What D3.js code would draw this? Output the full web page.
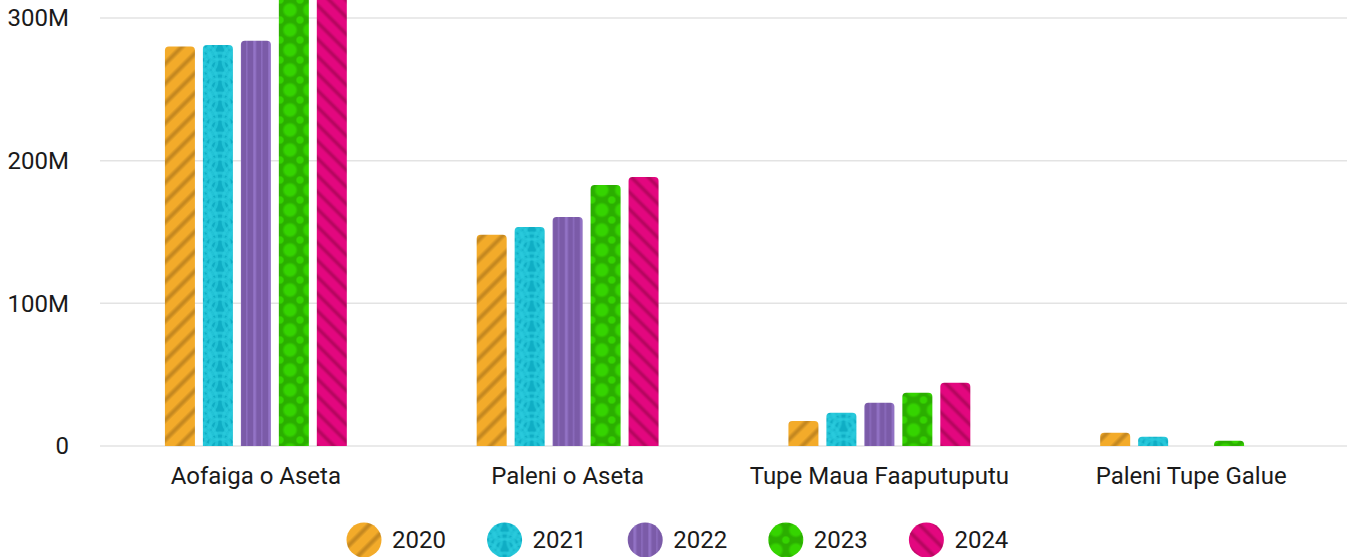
<!DOCTYPE html>
<html>
<head>
<meta charset="utf-8">
<script src="https://cdnjs.cloudflare.com/ajax/libs/d3/7.8.5/d3.min.js"></script>
<style>
  * { margin: 0; padding: 0; }
  body { background: #fff; font-family: Roboto, sans-serif; }
  svg { display: block; }
</style>
</head>
<body>
<script>
// chart data
var categories = ["Aofaiga o Aseta", "Paleni o Aseta", "Tupe Maua Faaputuputu", "Paleni Tupe Galue"];
var years = ["2020", "2021", "2022", "2023", "2024"];
var values2020 = [280e6, 148e6, 17.5e6, 9.3e6];
var values2021 = [281e6, 153.5e6, 23.3e6, 6.5e6];
var values2022 = [284e6, 160.5e6, 30.3e6, 0];
var values2023 = [318e6, 183e6, 37.4e6, 3.7e6];
var values2024 = [322e6, 188.5e6, 44.4e6, 0];
var yTicks = [0, 100e6, 200e6, 300e6];

var series = [values2020, values2021, values2022, values2023, values2024];

var width = 1347, height = 557;
var margin = { left: 100, right: 0, top: 18 };

var svg = d3.select("body").append("svg")
    .attr("width", width)
    .attr("height", height);

var defs = svg.append("defs");

// soft stripe gradient (base -> accent -> base)
function stripeGradient(id, base, accent) {
    var g = defs.append("linearGradient").attr("id", id)
        .attr("x1", "0%").attr("x2", "100%").attr("y1", "0%").attr("y2", "0%");
    g.append("stop").attr("offset", "0%").attr("stop-color", base);
    g.append("stop").attr("offset", "25%").attr("stop-color", base);
    g.append("stop").attr("offset", "45%").attr("stop-color", accent);
    g.append("stop").attr("offset", "55%").attr("stop-color", accent);
    g.append("stop").attr("offset", "75%").attr("stop-color", base);
    g.append("stop").attr("offset", "100%").attr("stop-color", base);
}

// 2020 orange diagonal stripes
stripeGradient("g2020", "#F3AB2A", "#C58820");
defs.append("pattern").attr("id", "p2020")
    .attr("patternUnits", "userSpaceOnUse").attr("width", 14).attr("height", 14)
    .attr("patternTransform", "rotate(45)")
    .append("rect").attr("width", 14).attr("height", 14).attr("fill", "url(#g2020)");

// 2021 cyan waves (scale pattern)
var cyan = defs.append("pattern").attr("id", "p2021")
    .attr("patternUnits", "userSpaceOnUse").attr("width", 40).attr("height", 20);
cyan.append("rect").attr("width", 40).attr("height", 20).attr("fill", "#0FADC4");
[[20, 20], [0, 10], [40, 10], [20, 0], [0, 30], [40, 30]].forEach(function(c) {
    [17, 11].forEach(function(r) {
        cyan.append("circle").attr("cx", c[0]).attr("cy", c[1]).attr("r", r)
            .attr("fill", "none").attr("stroke", "#2ACBDE").attr("stroke-width", 3)
            .attr("stroke-opacity", 0.7);
    });
});

// 2022 purple vertical stripes
var purpleGrad = defs.append("linearGradient").attr("id", "g2022")
    .attr("x1", "0%").attr("x2", "100%").attr("y1", "0%").attr("y2", "0%");
[[0, "#7B5BA8"], [0.3, "#7B5BA8"], [0.4, "#9676CA"], [0.5, "#8E6EC0"], [0.6, "#7B5BA8"],
 [0.85, "#7B5BA8"], [0.92, "#9272C6"], [1, "#7B5BA8"]].forEach(function(s) {
    purpleGrad.append("stop").attr("offset", s[0]).attr("stop-color", s[1]);
});
defs.append("pattern").attr("id", "p2022")
    .attr("patternUnits", "userSpaceOnUse").attr("width", 15).attr("height", 10)
    .attr("x", 238)
    .append("rect").attr("width", 15).attr("height", 10).attr("fill", "url(#g2022)");

// 2023 green dots
var greenDot = defs.append("radialGradient").attr("id", "g2023");
greenDot.append("stop").attr("offset", "0%").attr("stop-color", "#35D400");
greenDot.append("stop").attr("offset", "65%").attr("stop-color", "#35D400");
greenDot.append("stop").attr("offset", "100%").attr("stop-color", "#2BAE00");
var green = defs.append("pattern").attr("id", "p2023")
    .attr("patternUnits", "userSpaceOnUse").attr("width", 20).attr("height", 20);
green.append("rect").attr("width", 20).attr("height", 20).attr("fill", "#2BAE00");
green.append("circle").attr("cx", 10).attr("cy", 10).attr("r", 8).attr("fill", "url(#g2023)");
[[0, 0], [20, 0], [0, 20], [20, 20]].forEach(function(c) {
    green.append("circle").attr("cx", c[0]).attr("cy", c[1]).attr("r", 4.5).attr("fill", "url(#g2023)");
});

// 2024 pink diagonal stripes
stripeGradient("g2024", "#E3077F", "#B70660");
defs.append("pattern").attr("id", "p2024")
    .attr("patternUnits", "userSpaceOnUse").attr("width", 12).attr("height", 12)
    .attr("patternTransform", "rotate(-45)")
    .append("rect").attr("width", 12).attr("height", 12).attr("fill", "url(#g2024)");

var x0 = d3.scaleBand()
    .domain(categories)
    .range([margin.left, width - margin.right])
    .padding(0);

var x1 = d3.scaleBand()
    .domain(years)
    .range([0, x0.bandwidth()])
    .paddingInner(0.21)
    .paddingOuter(1.71);

var y = d3.scaleLinear()
    .domain([0, 300e6])
    .range([446, margin.top]);

// grid lines
svg.append("g").selectAll("line")
    .data(yTicks)
    .join("line")
    .attr("x1", margin.left)
    .attr("x2", width)
    .attr("y1", function(d) { return y(d); })
    .attr("y2", function(d) { return y(d); })
    .attr("stroke", "#e3e3e3")
    .attr("stroke-width", 1.5);

// y axis labels
var yAxis = d3.axisLeft(y)
    .tickValues(yTicks)
    .tickSize(0)
    .tickPadding(0)
    .tickFormat(function(d) { return d === 0 ? "0" : (d / 1e6) + "M"; });

svg.append("g")
    .attr("transform", "translate(69,0)")
    .call(yAxis)
    .call(function(g) { g.select(".domain").remove(); })
    .selectAll("text")
    .attr("font-family", "Roboto, sans-serif")
    .attr("font-size", "24px")
    .attr("fill", "#1a1a1a");

// rounded top bars
function barPath(x, yTop, w, h, r) {
    if (h <= 0) return "";
    r = Math.min(r, h, w / 2);
    var yb = yTop + h;
    return "M" + x + "," + yb +
        "L" + x + "," + (yTop + r) +
        "Q" + x + "," + yTop + " " + (x + r) + "," + yTop +
        "L" + (x + w - r) + "," + yTop +
        "Q" + (x + w) + "," + yTop + " " + (x + w) + "," + (yTop + r) +
        "L" + (x + w) + "," + yb + "Z";
}

var groups = svg.append("g").selectAll("g")
    .data(categories)
    .join("g")
    .attr("transform", function(d) { return "translate(" + x0(d) + ",0)"; });

groups.selectAll("path")
    .data(function(d, i) {
        return years.map(function(yr, j) { return { year: yr, value: series[j][i] }; });
    })
    .join("path")
    .attr("d", function(d) {
        var top = y(d.value);
        return barPath(x1(d.year), top, x1.bandwidth(), y(0) - top, 4);
    })
    .attr("fill", function(d) { return "url(#p" + d.year + ")"; });

// category labels
var xAxis = d3.axisBottom(x0).tickSize(0).tickPadding(0);
svg.append("g")
    .attr("transform", "translate(0,467)")
    .call(xAxis)
    .call(function(g) { g.select(".domain").remove(); })
    .selectAll("text")
    .attr("font-family", "Roboto, sans-serif")
    .attr("font-size", "24px")
    .attr("fill", "#1a1a1a");

// legend
var legend = svg.append("g").selectAll("g")
    .data(years)
    .join("g")
    .attr("transform", function(d, i) { return "translate(" + (364 + i * 140.6) + ",540)"; });

legend.append("circle")
    .attr("r", 17.5)
    .attr("fill", function(d) { return "url(#p" + d + ")"; });

legend.append("text")
    .attr("x", 28)
    .attr("dy", "0.35em")
    .attr("font-family", "Roboto, sans-serif")
    .attr("font-size", "24px")
    .attr("fill", "#1a1a1a")
    .text(function(d) { return d; });
</script>
</body>
</html>
